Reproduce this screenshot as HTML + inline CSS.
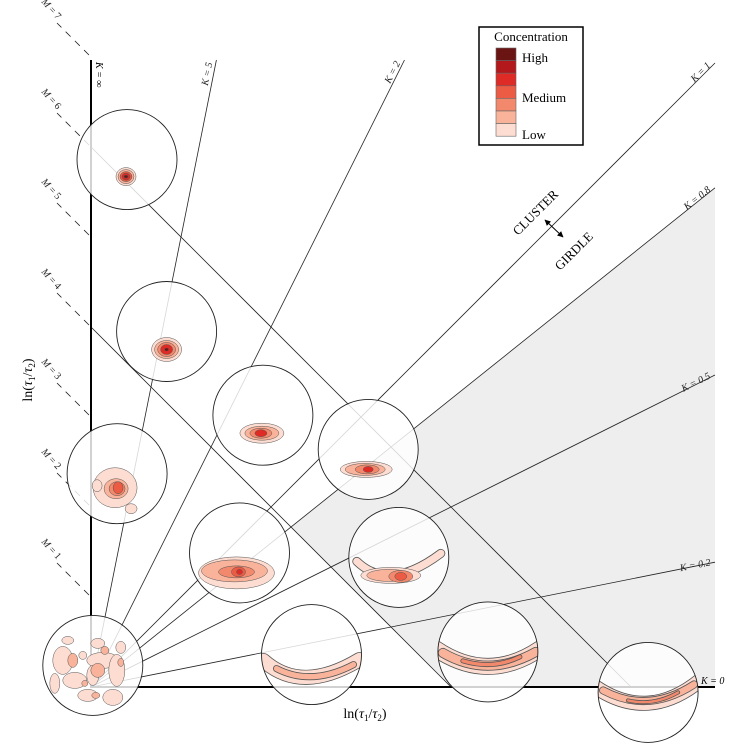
<!DOCTYPE html>
<html><head><meta charset="utf-8"><style>
body{margin:0;background:#fff}
svg{display:block;font-family:"Liberation Serif",serif}
</style></head><body>
<svg id="chart" width="736" height="751" viewBox="0 0 736 751" xmlns="http://www.w3.org/2000/svg">
<defs>
<marker id="ah" viewBox="0 0 10 10" refX="9" refY="5" markerWidth="6" markerHeight="6" orient="auto-start-reverse"><path d="M0,0L10,5L0,10z" fill="#000"/></marker>
</defs>
<g id="base"></g>
<g id="circles"></g>
<g id="legend">
<rect x="479" y="27" width="104" height="118" fill="#fff" stroke="#000" stroke-width="1.5"/>
<text x="531" y="41" font-size="13" text-anchor="middle">Concentration</text>
<g id="swatches"></g>
<text x="522" y="62" font-size="13">High</text>
<text x="522" y="102" font-size="13">Medium</text>
<text x="522" y="139" font-size="13">Low</text>
</g>
<g>
<text transform="translate(518,236) rotate(-45)" font-size="13">CLUSTER</text>
<text transform="translate(560,271) rotate(-45)" font-size="13">GIRDLE</text>
<line x1="545" y1="220" x2="563" y2="237" stroke="#000" stroke-width="1" marker-start="url(#ah)" marker-end="url(#ah)"/>
</g>
<text x="365" y="718" font-size="14" text-anchor="middle">ln(<tspan font-style="italic">τ</tspan><tspan font-size="9" dy="3">1</tspan><tspan dy="-3">/</tspan><tspan font-style="italic">τ</tspan><tspan font-size="9" dy="3">2</tspan><tspan dy="-3">)</tspan></text>
<text transform="translate(32,380) rotate(-90)" font-size="14" text-anchor="middle">ln(<tspan font-style="italic">τ</tspan><tspan font-size="9" dy="3">1</tspan><tspan dy="-3">/</tspan><tspan font-style="italic">τ</tspan><tspan font-size="9" dy="3">2</tspan><tspan dy="-3">)</tspan></text>
</svg>
<script>
// data (ln units)
const kValues=[5,2,1,0.8,0.5,0.2];
const kLabels=["K = 5","K = 2","K = 1","K = 0.8","K = 0.5","K = 0.2"];
const mTicks=[1,2,3,4,5,6,7];
const mLines=[4,6];
const circleX=[0.40,0.84,1.91,3.08,0.29,1.65,3.42,0.02,2.45,4.41,6.19];
const circleY=[5.86,3.95,3.02,2.64,2.37,1.49,1.44,0.24,0.36,0.39,-0.06];
const legendColors=["#6b1414","#b3191c","#de2b25","#ec5b44","#f3896c","#f9b39b","#fddcd1"];

const NS="http://www.w3.org/2000/svg";
const X0=91,Y0=687,S=90,XMAX=715,YTOP=60;
const sx=v=>X0+v*S, sy=v=>Y0-v*S;
function mk(t,a,p){const e=document.createElementNS(NS,t);for(const k in a)e.setAttribute(k,a[k]);(p||document.getElementById('base')).appendChild(e);return e;}
const xmax=(XMAX-X0)/S, ymax=(Y0-YTOP)/S;
const kShade=0.8, mShade=4;
const ix=mShade/(1+kShade);
let sh=mk('polygon',{points:`${sx(ix)},${sy(ix*kShade)} ${sx(xmax)},${sy(xmax*kShade)} ${sx(xmax)},${Y0} ${sx(mShade)},${Y0}`,fill:'#eeeeee'});


kValues.forEach((k,i)=>{
  let ex=Math.min(xmax,ymax/k), ey=ex*k;
  let l=mk('line',{x1:X0,y1:Y0,x2:sx(ex),y2:sy(ey),stroke:'#222','stroke-width':0.8});
  
  
  let ang=-Math.atan(k)*180/Math.PI;
  let t=mk('text',{transform:`translate(${sx(ex)-4},${sy(ey)+3}) rotate(${ang})`,'font-size':10,'text-anchor':'end','font-style':'italic',fill:'#222'});
  t.textContent=kLabels[i];
  
  
});
mLines.forEach(m=>{
  let l=mk('line',{x1:X0,y1:sy(m),x2:sx(m),y2:Y0,stroke:'#222','stroke-width':0.8});
  
  
});
let ya=mk('line',{x1:X0,y1:YTOP,x2:X0,y2:Y0,stroke:'#000','stroke-width':2});


let xa=mk('line',{x1:X0-1,y1:Y0,x2:XMAX,y2:Y0,stroke:'#000','stroke-width':2});


let ki=mk('text',{transform:`translate(96,${YTOP+2}) rotate(90)`,'font-size':10,'font-style':'italic'});ki.textContent='K = ∞';


let k0=mk('text',{x:XMAX-14,y:Y0-3,'font-size':10,'font-style':'italic'});k0.textContent='K = 0';


mTicks.forEach(m=>{
  let ty=sy(m);
  let d=mk('line',{x1:X0-2,y1:ty-2,x2:X0-34,y2:ty-34,stroke:'#222','stroke-width':0.8,'stroke-dasharray':'7,6'});
  
  
  let t=mk('text',{transform:`translate(${X0-50},${ty-55}) rotate(48)`,'font-size':10,fill:'#222'});
  t.innerHTML='<tspan font-style="italic">M</tspan> = '+m;
  
  
});
const sw=document.getElementById('swatches');
legendColors.forEach((c,i)=>{
  let r=mk('rect',{x:496,y:48+i*12.6,width:20,height:12.6,fill:c,stroke:'#666','stroke-width':0.6},sw);
  
  
});
const C=legendColors.slice().reverse();
const cg=document.getElementById('circles');
function ell(g,cx,cy,rx,ry,lvl){mk('ellipse',{cx,cy,rx,ry,fill:C[lvl],stroke:'#555','stroke-width':0.5},g);}
function band(g,d,w,lvl){mk('path',{d,fill:'none',stroke:'#555','stroke-width':w+1,'stroke-linecap':'round'},g);mk('path',{d,fill:'none',stroke:C[lvl],'stroke-width':w-0.6,'stroke-linecap':'round'},g);}
const blobs=[
 (g,x,y)=>{ell(g,x-1,y+17,10,9,0);ell(g,x-1,y+17,8,7,1);ell(g,x-1,y+17,6,5,3);ell(g,x-1,y+17,4,3.5,4);ell(g,x-1,y+17,2,1.5,6);},
 (g,x,y)=>{ell(g,x,y+18,15,12,0);ell(g,x,y+18,12,9,1);ell(g,x,y+18,9,7,2);ell(g,x,y+18,6,5,4);ell(g,x,y+18,2,1.5,6);},
 (g,x,y)=>{ell(g,x-1,y+18,22,10,0);ell(g,x-1,y+18,17,7,1);ell(g,x-2,y+18,11,5,2);ell(g,x-2,y+18,6,3.5,4);},
 (g,x,y)=>{ell(g,x-2,y+20,26,8,0);ell(g,x-3,y+20,20,6,1);ell(g,x-1,y+20,12,4.5,2);ell(g,x,y+20,5,3,4);},
 (g,x,y)=>{ell(g,x-2,y+14,22,20,0);ell(g,x+14,y+35,6,5,0);ell(g,x-20,y+12,5,6,0);ell(g,x-1,y+15,12,10,1);ell(g,x,y+15,8,7,2);ell(g,x+1,y+14,5,6,3);},
 (g,x,y)=>{ell(g,x-3,y+20,38,16,0);ell(g,x-5,y+18,33,11,1);ell(g,x-3,y+19,18,6,2);ell(g,x-1,y+19,7,5,3);ell(g,x,y+19,3,2.5,4);},
 (g,x,y)=>{band(g,`M${x-42},${y+4} Q${x-10},${y+35} ${x+42},${y-4}`,8,0);ell(g,x-8,y+18,30,8,0);ell(g,x-10,y+18,22,6,1);ell(g,x+2,y+19,12,6,2);ell(g,x+2,y+19,6,4,3);},
 (g,x,y)=>{[[-25,-25,6,4],[5,-22,7,5],[28,-18,5,6],[-30,-5,10,14],[-18,15,12,8],[10,-5,16,8],[24,5,8,16],[-5,30,10,6],[20,32,10,8],[-38,18,5,10],[0,10,6,10],[-10,-10,4,4]].forEach(b=>ell(g,x+b[0],y+b[1],b[2],b[3],0));[[-20,-5,5,7],[12,-15,4,4],[5,5,7,7],[-8,18,3,3],[28,-3,3,4],[3,30,4,3]].forEach(b=>ell(g,x+b[0],y+b[1],b[2],b[3],1));},
 (g,x,y)=>{band(g,`M${x-48},${y+6} Q${x-10},${y+40} ${x+48},${y+5}`,14,0);band(g,`M${x-35},${y+14} Q${x},${y+32} ${x+42},${y+10}`,6,1);},
 (g,x,y)=>{band(g,`M${x-52},${y-3} Q${x},${y+32} ${x+52},${y-3}`,16,0);band(g,`M${x-45},${y+1} Q${x},${y+27} ${x+48},${y}`,9,1);band(g,`M${x-25},${y+9} Q${x+5},${y+18} ${x+32},${y+5}`,4,2);},
 (g,x,y)=>{band(g,`M${x-52},${y-5} Q${x},${y+30} ${x+52},${y-12}`,14,0);band(g,`M${x-45},${y-2} Q${x},${y+22} ${x+46},${y-8}`,7,1);band(g,`M${x-20},${y+8} Q${x+5},${y+14} ${x+30},${y}`,3,2);}
];
circleX.forEach((cxv,i)=>{
  const cx=sx(cxv), cy=sy(circleY[i]), r=50;
  const g=mk('g',{},cg);
  
  
  mk('circle',{cx,cy,r,fill:'rgba(255,255,255,0.82)'},g);
  const cp=mk('clipPath',{id:'cp'+i},g);mk('circle',{cx,cy,r},cp);
  const bg=mk('g',{'clip-path':`url(#cp${i})`},g);
  blobs[i](bg,cx,cy);
  mk('circle',{cx,cy,r,fill:'none',stroke:'#222','stroke-width':0.9},g);
});
</script>
</body></html>
